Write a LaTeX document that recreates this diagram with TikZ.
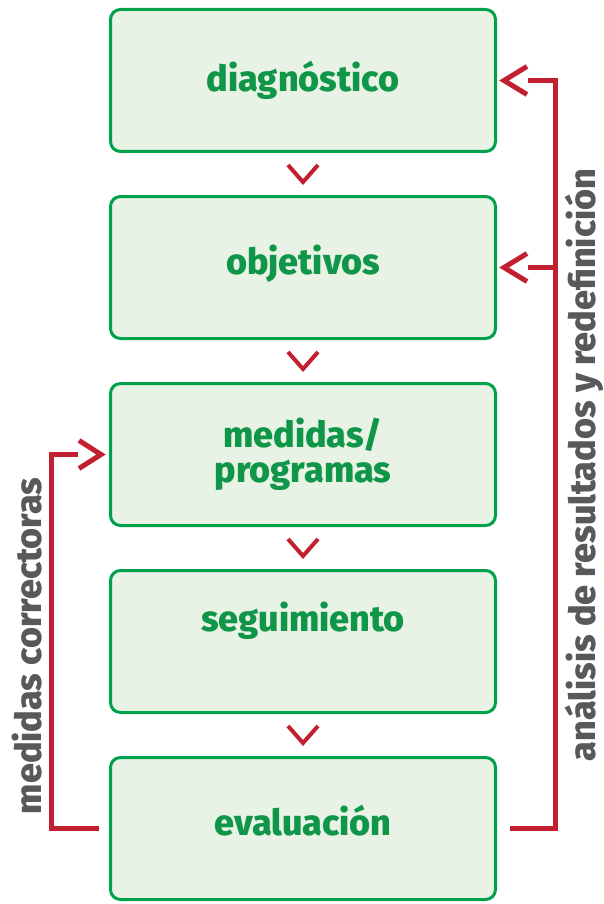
\documentclass[tikz,border=0pt]{standalone}
\usepackage{fontspec}
\setmainfont{Fira Sans}[BoldFont={Fira Sans ExtraBold}]
\usetikzlibrary{positioning,calc}
\definecolor{boxgreen}{RGB}{0,161,75}
\definecolor{txtgreen}{RGB}{16,150,72}
\definecolor{boxfill}{RGB}{232,243,229}
\definecolor{fbred}{RGB}{193,32,48}
\definecolor{lblgray}{RGB}{88,89,91}
\newcommand{\lift}[2]{\raisebox{#1}[\height][\depth]{#2}}

\begin{document}
\begin{tikzpicture}[x=1pt,y=1pt,
  stage/.style={draw=boxgreen,line width=3pt,fill=boxfill,rounded corners=10pt,
    minimum width=385pt,minimum height=142pt,text=txtgreen,align=center,
    font=\fontsize{36}{35}\selectfont\bfseries},
  fb/.style={draw=fbred,line width=5pt},
  side/.style={text=lblgray,rotate=90,font=\fontsize{36}{35}\selectfont\bfseries}]

  \useasboundingbox (0,0) rectangle (603,-904);

  \node[stage] (diag) at (303,-80.5) {diagnóstico};
  \node[stage,below=42pt of diag] (obj) {\lift{4pt}{objetivos}};
  \node[stage,below=42pt of obj] (med) {medidas/\\programas};
  \node[stage,below=42pt of med] (seg) {\lift{21pt}{seguimiento}};
  \node[stage,below=42pt of seg] (eval) {\lift{8pt}{evaluación}};

  % chevrons between stages
  \foreach \a/\b in {diag/obj,obj/med,med/seg,seg/eval}
    \draw[fb,line width=4pt] ($(\a.south)!.5!(\b.north)+(-15pt,9pt)$) -- ++(15pt,-17pt) -- ++(15pt,17pt);

  % feedback right
  \coordinate (rt) at ([xshift=58pt]diag.east);
  \draw[fb] ([xshift=13pt]eval.east) -| (rt) -- ([xshift=31pt]diag.east);
  \draw[fb] (rt |- obj.east) -- ([xshift=31pt]obj.east);
  \draw[fb] ([xshift=30pt,yshift=14pt]diag.east) -- ([xshift=7pt]diag.east) -- ([xshift=30pt,yshift=-14pt]diag.east);
  \draw[fb] ([xshift=30pt,yshift=14pt]obj.east) -- ([xshift=7pt]obj.east) -- ([xshift=30pt,yshift=-14pt]obj.east);

  % feedback left
  \coordinate (lt) at ([xshift=-58pt]med.west);
  \draw[fb] ([xshift=-10pt]eval.west) -| (lt) -- ([xshift=-31pt]med.west);
  \draw[fb] ([xshift=-30pt,yshift=14pt]med.west) -- ([xshift=-8pt]med.west) -- ([xshift=-30pt,yshift=-14pt]med.west);

  \node[side] (lblR) at (584,-465) {análisis de resultados y redefinición};
  \node[side] (lblL) at (27,-646) {medidas correctoras};

\end{tikzpicture}
\end{document}
